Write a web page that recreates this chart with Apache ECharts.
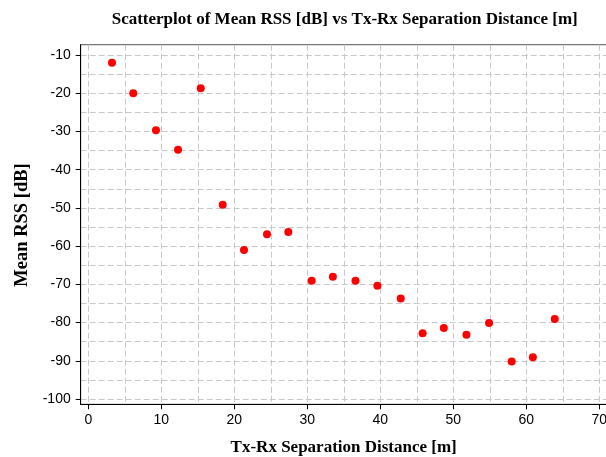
<!DOCTYPE html>
<html><head><meta charset="utf-8">
<script src="https://cdn.jsdelivr.net/npm/echarts@6/dist/echarts.min.js"></script>
<style>html,body{margin:0;padding:0;background:#fff}#c{width:606px;height:457px}</style>
</head><body><div id="c"></div>
<script>
// ---- data ----
const distances = [3.25, 6.16, 9.27, 12.29, 15.40, 18.41, 21.33, 24.48, 27.4, 30.6, 33.5, 36.6, 39.6, 42.8, 45.8, 48.7, 51.8, 54.9, 58.0, 60.9, 63.9];
const meanRss   = [-12.0, -20.0, -29.7, -34.8, -18.7, -49.2, -61.0, -56.9, -56.3, -69.05, -68.0, -69.05, -70.4, -73.7, -82.8, -81.4, -83.2, -80.1, -90.2, -89.1, -79.1];
const xTicks = [0, 10, 20, 30, 40, 50, 60, 70];
const yTicks = [-100, -90, -80, -70, -60, -50, -40, -30, -20, -10];
const titleText = 'Scatterplot of Mean RSS [dB] vs Tx-Rx Separation Distance [m]';
const xName = 'Tx-Rx Separation Distance [m]';
const yName = 'Mean RSS [dB]';

// ---- layout ----
const frameLeft = 80.7, frameTop = 44.7, frameBottom = 404.3, frameWidth = 560;
const x0px = 88.3, pxPerX = 7.3;          // pixel of x=0 and px per metre
const yTopTickPx = 55, pxPerY = 3.822;    // pixel of y=-10 and px per dB
const xStep = xTicks[1] - xTicks[0], yStep = yTicks[1] - yTicks[0];
const xFirst = xTicks[0], xLast = xTicks[xTicks.length - 1];
const yFirst = yTicks[0], yLast = yTicks[yTicks.length - 1];

const frameH = frameBottom - frameTop;
const xAMin = (frameLeft - x0px) / pxPerX;
const xAMax = xAMin + frameWidth / pxPerX;
const yAMax = yLast + (yTopTickPx - frameTop) / pxPerY;
const yBottomTickPx = yTopTickPx + (yLast - yFirst) * pxPerY;
const yAMin = yFirst - (frameBottom - yBottomTickPx) / pxPerY;

const tickFont = { fontFamily: "'Liberation Sans Narrow', 'Liberation Sans', sans-serif", fontSize: 14, color: '#000' };
const dash = { color: '#c8c8c8', width: 1, type: [6, 3] };

const chart = echarts.init(document.getElementById('c'), null, { renderer: 'canvas' });
chart.setOption({
  animation: false,
  backgroundColor: '#fff',
  grid: [
    { left: frameLeft, top: frameTop, width: frameWidth, height: frameH, outerBoundsMode: 'none', containLabel: false, show: true, borderColor: '#555', borderWidth: 1, backgroundColor: 'transparent' },
    { left: x0px, top: frameTop, width: (xLast - xFirst) * pxPerX, height: frameH, outerBoundsMode: 'none', containLabel: false },
    { left: frameLeft, top: yTopTickPx, width: frameWidth, height: (yLast - yFirst) * pxPerY, outerBoundsMode: 'none', containLabel: false }
  ],
  xAxis: [
    { type: 'value', gridIndex: 0, min: xAMin, max: xAMax, position: 'bottom',
      axisLine: { show: true, onZero: false, lineStyle: { color: '#000', width: 1 } },
      axisTick: { show: false }, axisLabel: { show: false }, splitLine: { show: false } },
    { type: 'value', gridIndex: 1, min: xFirst, max: xLast, interval: xStep, position: 'bottom',
      axisLine: { show: false, onZero: false },
      axisTick: { show: true, length: 5, lineStyle: { color: '#000' } },
      axisLabel: Object.assign({ show: true, margin: 9 }, tickFont),
      splitLine: { show: false } },
    { type: 'value', gridIndex: 1, min: xFirst, max: xLast, interval: xStep / 2, position: 'bottom',
      axisLine: { show: false, onZero: false }, axisTick: { show: false }, axisLabel: { show: false },
      splitLine: { show: true, lineStyle: dash } },
    { type: 'value', gridIndex: 2, min: 0, max: 1, show: false }
  ],
  yAxis: [
    { type: 'value', gridIndex: 0, min: yAMin, max: yAMax, position: 'left',
      axisLine: { show: true, onZero: false, lineStyle: { color: '#000', width: 1 } },
      axisTick: { show: false }, axisLabel: { show: false }, splitLine: { show: false } },
    { type: 'value', gridIndex: 1, min: 0, max: 1, show: false },
    { type: 'value', gridIndex: 2, min: yFirst, max: yLast, interval: yStep, position: 'left',
      axisLine: { show: false, onZero: false },
      axisTick: { show: true, length: 5, lineStyle: { color: '#000' } },
      axisLabel: Object.assign({ show: true, margin: 10 }, tickFont),
      splitLine: { show: false } },
    { type: 'value', gridIndex: 2, min: yFirst, max: yLast, interval: yStep / 2, position: 'left',
      axisLine: { show: false, onZero: false }, axisTick: { show: false }, axisLabel: { show: false },
      splitLine: { show: true, lineStyle: dash } }
  ],
  series: [{
    type: 'scatter', xAxisIndex: 0, yAxisIndex: 0,
    symbol: 'circle', symbolSize: 8,
    itemStyle: { color: '#ff0000', opacity: 1 },
    data: distances.map((d, i) => [d, meanRss[i]]),
    z: 5
  }],
  graphic: [
    { type: 'text', x: 344.7, y: 19.5, style: { text: titleText, font: 'bold 17px "Liberation Serif"', fill: '#000', align: 'center', verticalAlign: 'middle' } },
    { type: 'text', x: 343.7, y: 447.5, style: { text: xName, font: 'bold 17px "Liberation Serif"', fill: '#000', align: 'center', verticalAlign: 'middle' } },
    { type: 'text', x: 22.5, y: 225, rotation: Math.PI / 2, style: { text: yName, font: 'bold 18.5px "Liberation Serif"', fill: '#000', align: 'center', verticalAlign: 'middle' } }
  ]
});
</script>
</body></html>
